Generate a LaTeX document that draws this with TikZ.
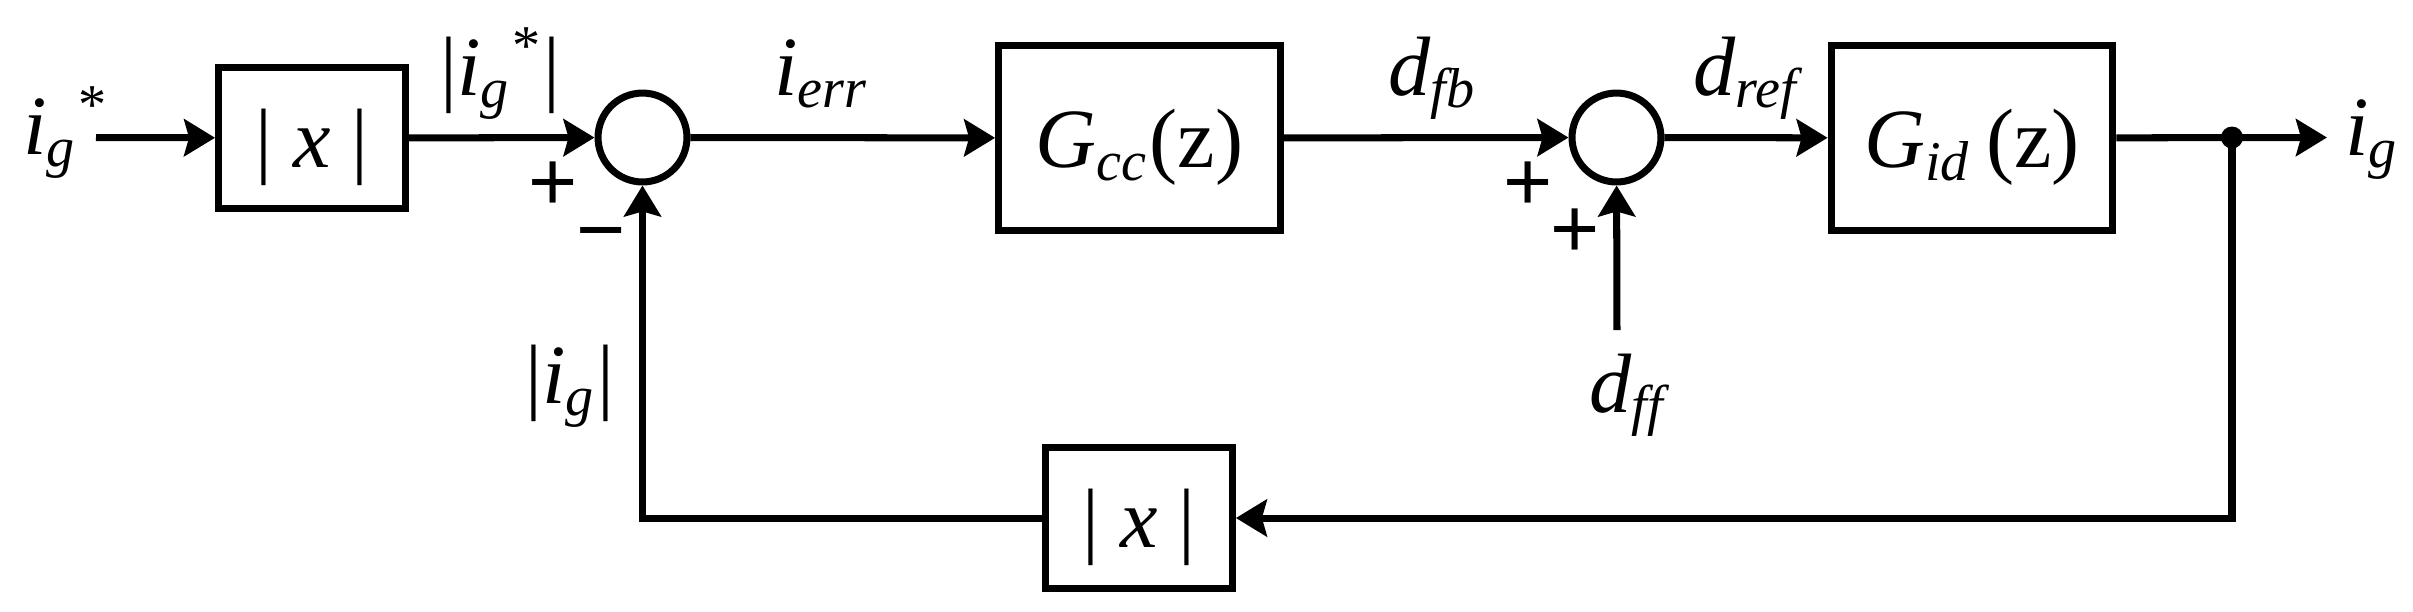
\documentclass[tikz,border=0pt]{standalone}
\usepackage{amsmath}
\usepackage{fontspec}
\setmainfont{Liberation Serif}
\setsansfont{Liberation Sans}
\usepackage{tikz}
\usetikzlibrary{arrows.meta}
\newcommand{\vsub}[2]{\textit{#1}$_{\textit{#2}}$}
\tikzstyle{every node}=[font=\large]
\tikzset{
  blockbox/.style={draw,inner sep=0pt,text height=8.4pt,text depth=0pt,minimum width=0.935cm,minimum height=0.705cm},
  bigbox/.style={blockbox,minimum width=1.41cm,minimum height=0.93cm},
  sumnode/.style={draw,circle,minimum size=0.445cm,inner sep=0pt},
  signnode/.style={font=\large\sffamily,inner sep=0pt,text height=8.4pt,text depth=0pt},
  dotnode/.style={circle,fill,inner sep=0pt,minimum size=0.11cm},
  lbl/.style={anchor=base west,inner sep=0pt}
}

\begin{document}
\begin{tikzpicture}[line width=1pt,>={Stealth[length=0.155cm,width=0.185cm,inset=0.025cm]},x=0.005cm,y=-0.005cm]

            \useasboundingbox (0,0) rectangle (2413,611);
            \coordinate (in) at (96,137.5);
            \node[blockbox] (absin) at (312,138) {| \textit{x} |};
            \node[sumnode] (sumerr) at (642.5,137.5) {};
            \node[bigbox] (gcc) at (1139.5,138) {\textit{G}$_{\textit{cc}}$(z)};
            \node[sumnode] (sumd) at (1616.5,137.5) {};
            \node[bigbox] (gid) at (1972,138) {\textit{G}$_{\textit{id}}$\,(z)};
            \node[dotnode] (jn) at (2232,137.5) {};
            \coordinate (out) at (2327,137.5);
            \coordinate (dff) at (1617,330);
            \node[blockbox] (absfb) at (1139,518) {| \textit{x} |};

            \draw [->] (in) -- (absin);
            \draw [->] (absin) -- (sumerr);
            \draw [->] (sumerr) -- (gcc);
            \draw [->] (gcc) -- (sumd);
            \draw [->] (sumd) -- (gid);
            \draw [->] (gid) -- (out);
            \draw [->] (dff) -- (sumd);
            \draw [->] (jn.center) |- (absfb);
            \draw [->] (absfb) -| (sumerr);

            \node[lbl] (lin) at (20,154) {\textit{i}$_{\textit{g}}{}^{\textup{*}}$};
            \node[lbl] (lref) at (437,95) {|\textit{i}$_{\textit{g}}{}^{\textup{*}}$|};
            \node[lbl] (lerr) at (771,95) {\vsub{i}{err}};
            \node[lbl] (ldfb) at (1385,95) {\vsub{d}{fb}};
            \node[lbl] (ldref) at (1690,95) {\vsub{d}{ref}};
            \node[lbl] (lout) at (2342,155) {\vsub{i}{g}};
            \node[lbl] (lfb) at (522,403) {|\vsub{i}{g}|};
            \node[lbl] (ldff) at (1586,412) {\vsub{d}{ff}};

            \node[signnode] (perr) at (553,181) {+};
            \node[signnode] (merr) at (601,228.5) {−};
            \node[signnode] (pfb) at (1528,181) {+};
            \node[signnode] (pff) at (1575,228) {+};
            \end{tikzpicture}
\end{document}
